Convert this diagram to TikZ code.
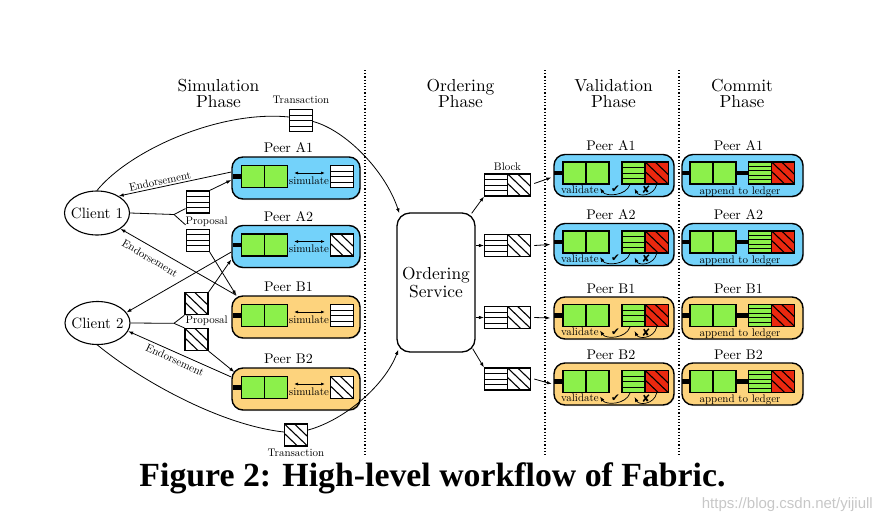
\documentclass[tikz,border=0pt]{standalone}
\usepackage{fontspec}
\setmainfont{lmroman10-regular.otf}
\newfontfamily\capfont{Liberation Serif}
\newfontfamily\wmfont{Liberation Sans}
\newfontfamily\symfont{DejaVu Sans}
\usetikzlibrary{arrows.meta,calc,shapes.geometric,shadows}
\definecolor{peerblue}{HTML}{73D2FA}
\definecolor{peerorange}{HTML}{FDD37D}
\definecolor{boxgreen}{HTML}{8CF04B}
\definecolor{boxred}{HTML}{EB280F}
\tikzset{
  conn/.style={line width=0.8pt},
  arr/.style={line width=0.8pt,-{Latex[length=5pt,width=3.6pt]}},
  darr/.style={line width=0.8pt,{Latex[length=4pt,width=3pt]}-{Latex[length=4pt,width=3pt]}},
  peerbox/.style={draw, line width=1.4pt, rounded corners=11pt, minimum height=42pt, inner sep=0pt,
    drop shadow={shadow xshift=1pt, shadow yshift=-1pt, opacity=0.25}},
  peerlbl/.style={anchor=base, inner sep=0pt, font=\fontsize{14}{14}\selectfont},
  headtxt/.style={anchor=base, inner sep=0pt, font=\fontsize{17.4}{17.4}\selectfont},
  smalltxt/.style={inner sep=0pt, font=\fontsize{11}{11}\selectfont},
  sq/.style={draw, line width=1.1pt, fill=boxgreen, minimum width=23pt, minimum height=22pt, inner sep=0pt},
  iconbox/.style={draw, line width=1.1pt, fill=white, minimum width=23pt, minimum height=22pt, inner sep=0pt},
  ledgericon/.style={iconbox, path picture={
    \foreach \k in {1,2,3}{\draw[line width=1pt] ([yshift=-\k*5.5pt]path picture bounding box.north west) -- ([yshift=-\k*5.5pt]path picture bounding box.north east);}}},
  ledgerfive/.style={iconbox, path picture={
    \foreach \k in {1,2,3,4}{\draw[line width=1pt] ([yshift=-\k*4.4pt]path picture bounding box.north west) -- ([yshift=-\k*4.4pt]path picture bounding box.north east);}}},
  hatchicon/.style={iconbox, path picture={
    \foreach \t in {-10,0,10}{\draw[line width=1.1pt] ([xshift=\t*1pt]path picture bounding box.north west) -- ([xshift=\t*1pt]path picture bounding box.south east);}}},
  checktxt/.style={inner sep=0pt, font=\symfont\fontsize{10.5}{10.5}\selectfont},
}
\newcommand\SimPeer[5]{%
  \node[peerbox, fill=#3, minimum width=128pt] (#1) at (296,#2) {};
  \node[peerlbl] (#1-lbl) at (288.5,#2-25.5) {#4};
  \fill (233,#2-3.75) rectangle (242,#2+0.75);
  \node[sq] (#1-s1) at (252.9,#2-1.5) {};
  \node[sq] (#1-s2) at (275.9,#2-1.5) {};
  \node[#5] (#1-ic) at (342,#2-1.5) {};
  \coordinate (#1-a) at (294,#2-5);
  \coordinate (#1-b) at (325,#2-5);
  \draw[darr] (#1-a) -- (#1-b);
  \node[smalltxt, anchor=base] (#1-sim) at (309,#2+6.3) {simulate};
}
\newcommand\ValPeer[4]{%
  \node[peerbox, fill=#3, minimum width=120pt] (#1) at (614,#2) {};
  \node[peerlbl] (#1-lbl) at (611,#2-25) {#4};
  \fill (554,#2-4.75) rectangle (563,#2-0.25);
  \node[sq] (#1-s1) at (574.5,#2-2.5) {};
  \node[sq] (#1-s2) at (597.5,#2-2.5) {};
  \node[ledgericon, fill=boxgreen] (#1-gl) at (633.5,#2-2.5) {};
  \node[hatchicon, fill=boxred] (#1-rh) at (656.7,#2-2.5) {};
  \node[smalltxt, anchor=base] (#1-val) at (580,#2+17.5) {validate};
  \coordinate (#1-e1) at (600,#2+12.5);
  \coordinate (#1-e2) at (634.5,#2+13);
  \draw[arr, line width=0.7pt] ([xshift=-3.5pt]#1-gl.south) .. controls (626,#2+20.5) and (606,#2+21.5) .. (#1-e1);
  \draw[arr, line width=0.7pt] (#1-rh.south) .. controls (654,#2+20.5) and (639,#2+21.5) .. (#1-e2);
  \node[checktxt] (#1-ok) at (615.5,#2+14) {✔};
  \node[checktxt] (#1-no) at (646,#2+14.5) {✘};
}
\newcommand\ComPeer[4]{%
  \node[peerbox, fill=#3, minimum width=121pt] (#1) at (742.5,#2) {};
  \node[peerlbl] (#1-lbl) at (738.5,#2-25) {#4};
  \fill (682,#2-4.75) rectangle (690,#2-0.25);
  \node[sq] (#1-s1) at (701.5,#2-2.5) {};
  \node[sq] (#1-s2) at (724.5,#2-2.5) {};
  \fill (736,#2-4.75) rectangle (748,#2-0.25);
  \node[ledgerfive, fill=boxgreen] (#1-gl) at (759.7,#2-2.5) {};
  \node[hatchicon, fill=boxred] (#1-rh) at (783.2,#2-2.5) {};
  \node[smalltxt, anchor=base] (#1-app) at (740,#2+18.5) {append to ledger};
}
\begin{document}
\begin{tikzpicture}[x=1pt,y=-1pt]
\useasboundingbox (0,0) rectangle (881,520);
% phase separators
\draw[dotted, line width=1.2pt] (365,70) -- (365,456);
\draw[dotted, line width=1.2pt] (545,70) -- (545,456);
\draw[dotted, line width=1.2pt] (679,70) -- (679,456);
% headings
\node[headtxt] (h1a) at (218.5,91) {Simulation};
\node[headtxt] (h1b) at (218.5,107.3) {Phase};
\node[headtxt] (h2a) at (460.5,91) {Ordering};
\node[headtxt] (h2b) at (460.5,107.3) {Phase};
\node[headtxt] (h3a) at (613.5,91) {Validation};
\node[headtxt] (h3b) at (613.5,107.3) {Phase};
\node[headtxt] (h4a) at (742,91) {Commit};
\node[headtxt] (h4b) at (742,107.3) {Phase};
% clients
\node[draw, ellipse, line width=1.1pt, minimum width=65pt, minimum height=44pt, inner sep=0pt,
  label={[font=\fontsize{15}{15}\selectfont]center:Client 1}] (c1) at (97,213) {};
\node[draw, ellipse, line width=1.1pt, minimum width=65pt, minimum height=43pt, inner sep=0pt,
  label={[font=\fontsize{15}{15}\selectfont]center:Client 2}] (c2) at (97.5,323) {};
% simulation peers
\SimPeer{pA1}{178}{peerblue}{Peer A1}{ledgericon}
\SimPeer{pA2}{246.5}{peerblue}{Peer A2}{hatchicon}
\SimPeer{pB1}{317}{peerorange}{Peer B1}{ledgericon}
\SimPeer{pB2}{389}{peerorange}{Peer B2}{hatchicon}
% proposals
\node[ledgericon] (b1) at (197.6,202) {};
\node[ledgericon] (b2) at (197.6,240.4) {};
\node[hatchicon] (b3) at (196.5,303.7) {};
\node[hatchicon] (b4) at (196.5,339.5) {};
\node[smalltxt, anchor=base] (lp1) at (206.7,224.3) {Proposal};
\node[smalltxt, anchor=base] (lp2) at (206.7,323) {Proposal};
\coordinate (br1) at (174,214.5);
\coordinate (br2) at (174,323.3);
\draw[conn] (c1.east) -- (br1) -- ([yshift=5pt]b1.south west);
\draw[conn] (br1) -- ([yshift=4pt]b2.north west);
\draw[conn] (c2.east) -- (br2) -- (b3.south west);
\draw[conn] (br2) -- (b4.north west);
\draw[arr] (b1.north east) -- ([yshift=-2pt]pA1.west);
\draw[arr] (b2.south east) -- ([xshift=5pt]pB1.north west);
\draw[arr] (b3.north east) -- ([yshift=-13pt]pA2.west);
\draw[arr] (b4.south east) -- ([xshift=3pt,yshift=17pt]pB2.west);
% endorsements
\draw[arr] ([yshift=6pt]pA1.west) -- (c1.38);
\draw[arr] ([xshift=5pt]pB1.north west) -- (c1.-34);
\draw[arr] ([yshift=-5.5pt]pA2.west) -- (c2.20);
\draw[arr] ([yshift=12pt]pB2.west) -- (c2.-15);
\node[smalltxt, rotate=12] (le1) at (160,181) {Endorsement};
\node[smalltxt, rotate=-31] (le2) at (150,258) {Endorsement};
\node[smalltxt, rotate=-25] (le3) at (175,360) {Endorsement};
% ordering service
\node[draw, line width=1.3pt, rounded corners=13pt, minimum width=78pt, minimum height=139pt,
  align=center, font=\fontsize{17.4}{18.4}\selectfont] (os) at (436,282.5) {Ordering\\Service};
% transactions
\node[ledgericon] (tx1) at (301,120.5) {};
\node[hatchicon] (tx2) at (296,435) {};
\node[smalltxt, anchor=base] (lt1) at (301,103.3) {Transaction};
\node[smalltxt, anchor=base] (lt2) at (296,456) {Transaction};
\coordinate (osin1) at ([xshift=3pt,yshift=-1pt]os.north west);
\coordinate (osin2) at ([xshift=2pt,yshift=3pt]os.south west);
\draw[conn] (c1.north) .. controls (130,150) and (220,110) .. ([yshift=3.5pt]tx1.west);
\draw[arr] ([yshift=-1pt]tx1.east) .. controls (345,130) and (385,170) .. (osin1);
\draw[conn] (c2.south) .. controls (140,380) and (220,425) .. ([yshift=3pt]tx2.west);
\draw[arr] ([yshift=5pt]tx2.east) .. controls (345,420) and (385,385) .. (osin2);
% blocks
\node[ledgericon] (bk1l) at (496,185) {};
\node[hatchicon] (bk1h) at (519.2,185) {};
\node[ledgericon] (bk2l) at (496,245.5) {};
\node[hatchicon] (bk2h) at (519.2,245.5) {};
\node[ledgericon] (bk3l) at (496,317.5) {};
\node[hatchicon] (bk3h) at (519.2,317.5) {};
\node[ledgericon] (bk4l) at (496,379) {};
\node[hatchicon] (bk4h) at (519.2,379) {};
\node[smalltxt, anchor=base] (lbk) at (507.5,170) {Block};
\draw[arr] ([xshift=-4pt,yshift=-1pt]os.north east) -- (bk1l.south west);
\draw[arr] (os.east |- bk2l.west) -- (bk2l.west);
\draw[arr] (os.east |- bk3l.west) -- (bk3l.west);
\draw[arr] ([xshift=-3pt,yshift=4pt]os.south east) -- (bk4l.north west);
% validation peers
\ValPeer{vA1}{175.5}{peerblue}{Peer A1}
\ValPeer{vA2}{244.5}{peerblue}{Peer A2}
\ValPeer{vB1}{318}{peerorange}{Peer B1}
\ValPeer{vB2}{384}{peerorange}{Peer B2}
\draw[arr] ([xshift=3pt,yshift=1.5pt]bk1h.east) -- ([xshift=-2pt,yshift=-2pt]vA1.west);
\draw[arr] ([xshift=3pt]bk2h.east) -- ([xshift=-3pt]vA2.west);
\draw[arr] ([xshift=3pt]bk3h.east) -- ([xshift=-3pt]vB1.west);
\draw[arr] ([xshift=3pt]bk4h.east) -- ([xshift=-1.5pt]vB2.west);
% commit peers
\ComPeer{kA1}{175.5}{peerblue}{Peer A1}
\ComPeer{kA2}{244.5}{peerblue}{Peer A2}
\ComPeer{kB1}{318}{peerorange}{Peer B1}
\ComPeer{kB2}{384}{peerorange}{Peer B2}
% caption
\node[anchor=base, inner sep=0pt, font=\capfont\bfseries\fontsize{33.8}{36}\selectfont] (cap) at (432.5,486) {Figure 2: High-level workflow of Fabric.};
\node[anchor=base east, inner sep=0pt, text=black!22, font=\wmfont\fontsize{15}{15}\selectfont] (wm) at (873,508) {https://blog.csdn.net/yijiull};
\end{tikzpicture}
\end{document}
